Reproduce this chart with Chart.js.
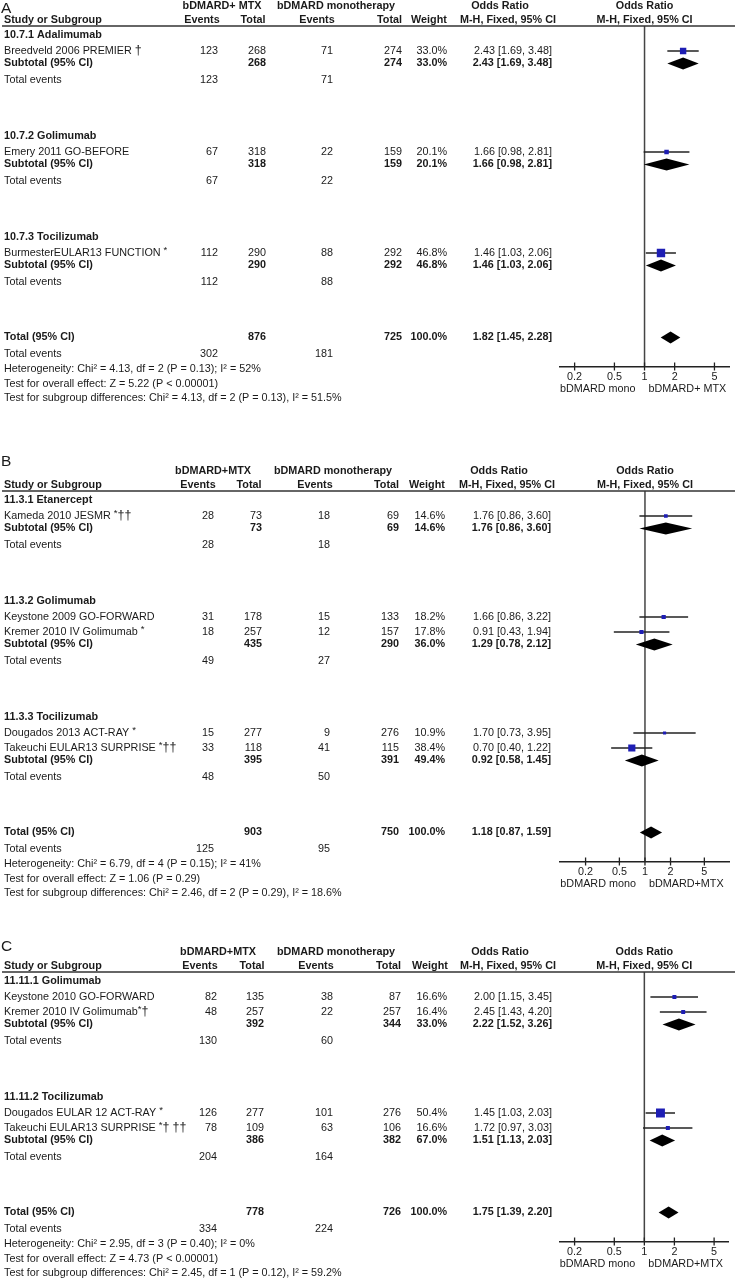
<!DOCTYPE html>
<html>
<head>
<meta charset="utf-8">
<script src="https://cdn.jsdelivr.net/npm/chart.js@4.4.1/dist/chart.umd.min.js"></script>
<style>
  body { margin: 0; background: #fff; width: 735px; height: 1280px; position: relative; overflow: hidden; }
  canvas { position: absolute; left: 0; }
</style>
</head>
<body>
<canvas id="chartA" width="735" height="440" style="top:0px"></canvas>
<canvas id="chartB" width="735" height="485" style="top:440px"></canvas>
<canvas id="chartC" width="735" height="355" style="top:925px"></canvas>
<script>
// ---- data: panel A ----
const groupsA = ['10.7.1 Adalimumab', '10.7.2 Golimumab', '10.7.3 Tocilizumab'];
const studiesA = ['Breedveld 2006 PREMIER', 'Emery 2011 GO-BEFORE', 'BurmesterEULAR13 FUNCTION'];
const marksA = [' †', '', ' *'];
const groupOfA = [0, 1, 2];
const expEventsA = [123, 67, 112];
const expTotalA = [268, 318, 290];
const ctlEventsA = [71, 22, 88];
const ctlTotalA = [274, 159, 292];
const weightA = [33.0, 20.1, 46.8];
const orA = [2.43, 1.66, 1.46];
const loA = [1.69, 0.98, 1.03];
const hiA = [3.48, 2.81, 2.06];
const subWeightA = [33.0, 20.1, 46.8];
const subOrA = [2.43, 1.66, 1.46];
const subLoA = [1.69, 0.98, 1.03];
const subHiA = [3.48, 2.81, 2.06];
const overallA = [1.82, 1.45, 2.28];
const statsA = ['Heterogeneity: Chi² = 4.13, df = 2 (P = 0.13); I² = 52%',
                'Test for overall effect: Z = 5.22 (P < 0.00001)',
                'Test for subgroup differences: Chi² = 4.13, df = 2 (P = 0.13), I² = 51.5%'];

// ---- data: panel B ----
const groupsB = ['11.3.1 Etanercept', '11.3.2 Golimumab', '11.3.3 Tocilizumab'];
const studiesB = ['Kameda 2010 JESMR', 'Keystone 2009 GO-FORWARD', 'Kremer 2010 IV Golimumab',
                  'Dougados 2013 ACT-RAY', 'Takeuchi EULAR13 SURPRISE'];
const marksB = [' *††', '', ' *', ' *', ' *††'];
const groupOfB = [0, 1, 1, 2, 2];
const expEventsB = [28, 31, 18, 15, 33];
const expTotalB = [73, 178, 257, 277, 118];
const ctlEventsB = [18, 15, 12, 9, 41];
const ctlTotalB = [69, 133, 157, 276, 115];
const weightB = [14.6, 18.2, 17.8, 10.9, 38.4];
const orB = [1.76, 1.66, 0.91, 1.70, 0.70];
const loB = [0.86, 0.86, 0.43, 0.73, 0.40];
const hiB = [3.60, 3.22, 1.94, 3.95, 1.22];
const subWeightB = [14.6, 36.0, 49.4];
const subOrB = [1.76, 1.29, 0.92];
const subLoB = [0.86, 0.78, 0.58];
const subHiB = [3.60, 2.12, 1.45];
const overallB = [1.18, 0.87, 1.59];
const statsB = ['Heterogeneity: Chi² = 6.79, df = 4 (P = 0.15); I² = 41%',
                'Test for overall effect: Z = 1.06 (P = 0.29)',
                'Test for subgroup differences: Chi² = 2.46, df = 2 (P = 0.29), I² = 18.6%'];

// ---- data: panel C ----
const groupsC = ['11.11.1 Golimumab', '11.11.2 Tocilizumab'];
const studiesC = ['Keystone 2010 GO-FORWARD', 'Kremer 2010 IV Golimumab',
                  'Dougados EULAR 12 ACT-RAY', 'Takeuchi EULAR13 SURPRISE'];
const marksC = ['', '*†', ' *', ' *† ††'];
const groupOfC = [0, 0, 1, 1];
const expEventsC = [82, 48, 126, 78];
const expTotalC = [135, 257, 277, 109];
const ctlEventsC = [38, 22, 101, 63];
const ctlTotalC = [87, 257, 276, 106];
const weightC = [16.6, 16.4, 50.4, 16.6];
const orC = [2.00, 2.45, 1.45, 1.72];
const loC = [1.15, 1.43, 1.03, 0.97];
const hiC = [3.45, 4.20, 2.03, 3.03];
const subWeightC = [33.0, 67.0];
const subOrC = [2.22, 1.51];
const subLoC = [1.52, 1.13];
const subHiC = [3.26, 2.03];
const overallC = [1.75, 1.39, 2.20];
const statsC = ['Heterogeneity: Chi² = 2.95, df = 3 (P = 0.40); I² = 0%',
                'Test for overall effect: Z = 4.73 (P < 0.00001)',
                'Test for subgroup differences: Chi² = 2.45, df = 1 (P = 0.12), I² = 59.2%'];

const tickValues = [0.2, 0.5, 1, 2, 5];

// ---- drawing helpers ----
const FAMILY = '"Liberation Sans", Arial, Helvetica, sans-serif';
const SIZE = 10.8;
const INK = '#1a1a1a';
const BLUE = '#1e1eb4';

function txt(ctx, s, x, y, align, bold, size) {
  ctx.font = (bold ? 'bold ' : '') + (size || SIZE) + 'px ' + FAMILY;
  ctx.textAlign = align || 'left';
  ctx.fillText(s, x, y);
  return ctx.measureText(s).width;
}

function drawMarks(ctx, marks, x, y) {
  for (const ch of marks) {
    if (ch === ' ') { x += 3; continue; }
    if (ch === '*') x += txt(ctx, ch, x, y - 3, 'left', false, 9.5);
    else x += txt(ctx, ch, x, y, 'left', false, 12.5);
  }
}

const fmtOR = (o, l, h) => o.toFixed(2) + ' [' + l.toFixed(2) + ', ' + h.toFixed(2) + ']';

function makePanel(id, p, lay) {
  const H = document.getElementById(id).height;
  const sumOf = (arr, gi) => arr.reduce((a, v, k) => a + (gi == null || p.groupOf[k] === gi ? v : 0), 0);

  // row positions (pixel units below the header rule)
  const pos = { group: [], study: [], sub: [], events: [] };
  let y = 9;
  p.groups.forEach((g, gi) => {
    if (gi > 0) y += 56;
    pos.group[gi] = y;
    let first = true;
    p.groupOf.forEach((gg, si) => {
      if (gg !== gi) return;
      y += first ? 16 : 15;
      first = false;
      pos.study[si] = y;
    });
    y += 12.5; pos.sub[gi] = y;
    y += 16.5; pos.events[gi] = y;
  });
  const total95 = y + 55.5;
  const yMax = total95 + 29;

  const squares = {
    type: 'scatter', order: 0,
    data: p.or.map((v, i) => ({ x: v, y: pos.study[i] })),
    pointStyle: 'rect',
    pointRadius: p.weight.map(w => (1.6 + 0.145 * w) / Math.SQRT2),
    backgroundColor: BLUE, borderWidth: 0
  };
  const whiskers = p.or.map((v, i) => ({
    type: 'scatter', order: 1, showLine: true,
    data: [{ x: p.lo[i], y: pos.study[i] }, { x: p.hi[i], y: pos.study[i] }],
    borderColor: '#222', borderWidth: 1.4, pointRadius: 0
  }));

  const forestPlugin = {
    id: 'forest_' + id,
    beforeDatasetsDraw(chart) {
      const ctx = chart.ctx, ca = chart.chartArea, xs = chart.scales.x;
      const x1 = xs.getPixelForValue(1);
      ctx.save();
      ctx.strokeStyle = '#444'; ctx.lineWidth = 1.5;
      ctx.beginPath(); ctx.moveTo(x1, ca.top); ctx.lineTo(x1, ca.bottom); ctx.stroke();
      ctx.restore();
    },
    afterDatasetsDraw(chart) {
      const ctx = chart.ctx, xs = chart.scales.x, ys = chart.scales.y;
      const diamond = (o, l, h, yy) => {
        const py = ys.getPixelForValue(yy);
        ctx.beginPath();
        ctx.moveTo(xs.getPixelForValue(l), py);
        ctx.lineTo(xs.getPixelForValue(o), py - 6);
        ctx.lineTo(xs.getPixelForValue(h), py);
        ctx.lineTo(xs.getPixelForValue(o), py + 6);
        ctx.closePath(); ctx.fill();
      };
      ctx.save(); ctx.fillStyle = '#000';
      p.groups.forEach((g, gi) => diamond(p.subOr[gi], p.subLo[gi], p.subHi[gi], pos.sub[gi]));
      diamond(p.overall[0], p.overall[1], p.overall[2], total95);
      ctx.restore();
    },
    afterDraw(chart) {
      const ctx = chart.ctx, ca = chart.chartArea, xs = chart.scales.x, ys = chart.scales.y;
      const Y = v => ys.getPixelForValue(v);
      const c = lay.cols;
      ctx.save();
      ctx.fillStyle = INK; ctx.textBaseline = 'middle';

      // panel letter and column headers
      txt(ctx, lay.letter, 1, Y(lay.letterDy), 'left', false, 15.5);
      const h1 = Y(-20), h2 = Y(-6);
      txt(ctx, p.expLabel, c.hExp, h1, 'center', true);
      txt(ctx, 'bDMARD monotherapy', c.hCtl, h1, 'center', true);
      txt(ctx, 'Odds Ratio', c.hOR, h1, 'center', true);
      const plotMid = (ca.left + ca.right) / 2;
      txt(ctx, 'Odds Ratio', plotMid, h1, 'center', true);
      txt(ctx, 'Study or Subgroup', 4, h2, 'left', true);
      txt(ctx, 'Events', c.hEv1, h2, 'center', true);
      txt(ctx, 'Total', c.hTot1, h2, 'center', true);
      txt(ctx, 'Events', c.hEv2, h2, 'center', true);
      txt(ctx, 'Total', c.ctlTot, h2, 'right', true);
      txt(ctx, 'Weight', c.hWt, h2, 'center', true);
      txt(ctx, 'M-H, Fixed, 95% CI', c.hMH, h2, 'center', true);
      txt(ctx, 'M-H, Fixed, 95% CI', plotMid, h2, 'center', true);

      ctx.strokeStyle = '#333'; ctx.lineWidth = 1.5;
      ctx.beginPath(); ctx.moveTo(2, ca.top); ctx.lineTo(735, ca.top); ctx.stroke();

      // groups
      p.groups.forEach((g, gi) => {
        txt(ctx, g, 4, Y(pos.group[gi]), 'left', true);
        const ys2 = Y(pos.sub[gi]);
        txt(ctx, 'Subtotal (95% CI)', 4, ys2, 'left', true);
        txt(ctx, String(sumOf(p.expTotal, gi)), c.expTot, ys2, 'right', true);
        txt(ctx, String(sumOf(p.ctlTotal, gi)), c.ctlTot, ys2, 'right', true);
        txt(ctx, p.subWeight[gi].toFixed(1) + '%', c.wt, ys2, 'right', true);
        txt(ctx, fmtOR(p.subOr[gi], p.subLo[gi], p.subHi[gi]), c.or, ys2, 'right', true);
        const ye = Y(pos.events[gi]);
        txt(ctx, 'Total events', 4, ye, 'left', false);
        txt(ctx, String(sumOf(p.expEvents, gi)), c.expEv, ye, 'right', false);
        txt(ctx, String(sumOf(p.ctlEvents, gi)), c.ctlEv, ye, 'right', false);
      });

      // studies
      p.studies.forEach((s, si) => {
        const yy = Y(pos.study[si]);
        const w = txt(ctx, s, 4, yy, 'left', false);
        drawMarks(ctx, p.marks[si], 4 + w, yy);
        txt(ctx, String(p.expEvents[si]), c.expEv, yy, 'right', false);
        txt(ctx, String(p.expTotal[si]), c.expTot, yy, 'right', false);
        txt(ctx, String(p.ctlEvents[si]), c.ctlEv, yy, 'right', false);
        txt(ctx, String(p.ctlTotal[si]), c.ctlTot, yy, 'right', false);
        txt(ctx, p.weight[si].toFixed(1) + '%', c.wt, yy, 'right', false);
        txt(ctx, fmtOR(p.or[si], p.lo[si], p.hi[si]), c.or, yy, 'right', false);
      });

      // overall
      const yt = Y(total95);
      txt(ctx, 'Total (95% CI)', 4, yt, 'left', true);
      txt(ctx, String(sumOf(p.expTotal)), c.expTot, yt, 'right', true);
      txt(ctx, String(sumOf(p.ctlTotal)), c.ctlTot, yt, 'right', true);
      txt(ctx, '100.0%', c.wt, yt, 'right', true);
      txt(ctx, fmtOR(p.overall[0], p.overall[1], p.overall[2]), c.or, yt, 'right', true);
      const yte = Y(total95 + 17);
      txt(ctx, 'Total events', 4, yte, 'left', false);
      txt(ctx, String(sumOf(p.expEvents)), c.expEv, yte, 'right', false);
      txt(ctx, String(sumOf(p.ctlEvents)), c.ctlEv, yte, 'right', false);
      p.stats.forEach((s, k) => txt(ctx, s, 4, Y(total95 + 32 + 14.5 * k), 'left', false));

      // axis tick crosses and side labels
      ctx.strokeStyle = '#222'; ctx.lineWidth = 1.3;
      tickValues.forEach(v => {
        const x = xs.getPixelForValue(v);
        ctx.beginPath(); ctx.moveTo(x, ca.bottom - 4); ctx.lineTo(x, ca.bottom + 4); ctx.stroke();
      });
      const x1 = xs.getPixelForValue(1);
      txt(ctx, 'bDMARD mono', x1 - 9, ca.bottom + 23, 'right', false);
      txt(ctx, p.expLabel, x1 + 4, ca.bottom + 23, 'left', false);
      ctx.restore();
    }
  };

  return new Chart(document.getElementById(id), {
    data: { datasets: [squares, ...whiskers] },
    options: {
      responsive: false,
      animation: false,
      events: [],
      layout: { padding: { top: lay.line, left: 560, right: 2, bottom: 0 } },
      plugins: { legend: { display: false }, tooltip: { enabled: false } },
      scales: {
        x: {
          type: 'logarithmic', min: lay.xMin, max: lay.xMax, bounds: 'data',
          afterBuildTicks: s => { s.ticks = tickValues.map(v => ({ value: v })); },
          afterFit: s => { s.height = H - lay.line - yMax; },
          grid: { display: false, drawTicks: false },
          border: { display: true, color: '#222', width: 1.5 },
          ticks: {
            autoSkip: false, maxRotation: 0, padding: 4, color: INK,
            font: { family: FAMILY, size: SIZE },
            callback: v => String(v)
          }
        },
        y: { type: 'linear', display: false, reverse: true, min: 0, max: yMax }
      }
    },
    plugins: [forestPlugin]
  });
}

makePanel('chartA', {
  groups: groupsA, studies: studiesA, marks: marksA, groupOf: groupOfA,
  expEvents: expEventsA, expTotal: expTotalA, ctlEvents: ctlEventsA, ctlTotal: ctlTotalA,
  weight: weightA, or: orA, lo: loA, hi: hiA,
  subWeight: subWeightA, subOr: subOrA, subLo: subLoA, subHi: subHiA,
  overall: overallA, stats: statsA, expLabel: 'bDMARD+ MTX'
}, {
  letter: 'A', letterDy: -17, line: 26, xMin: 1 / 7, xMax: 7,
  cols: { expEv: 218, expTot: 266, ctlEv: 333, ctlTot: 402, wt: 447, or: 552,
          hExp: 222, hCtl: 336, hEv1: 202, hTot1: 253, hEv2: 317, hWt: 429, hOR: 500, hMH: 508 }
});

makePanel('chartB', {
  groups: groupsB, studies: studiesB, marks: marksB, groupOf: groupOfB,
  expEvents: expEventsB, expTotal: expTotalB, ctlEvents: ctlEventsB, ctlTotal: ctlTotalB,
  weight: weightB, or: orB, lo: loB, hi: hiB,
  subWeight: subWeightB, subOr: subOrB, subLo: subLoB, subHi: subHiB,
  overall: overallB, stats: statsB, expLabel: 'bDMARD+MTX'
}, {
  letter: 'B', letterDy: -29, line: 51, xMin: 0.1, xMax: 10,
  cols: { expEv: 214, expTot: 262, ctlEv: 330, ctlTot: 399, wt: 445, or: 551,
          hExp: 213, hCtl: 333, hEv1: 198, hTot1: 249, hEv2: 315, hWt: 427, hOR: 499, hMH: 507 }
});

makePanel('chartC', {
  groups: groupsC, studies: studiesC, marks: marksC, groupOf: groupOfC,
  expEvents: expEventsC, expTotal: expTotalC, ctlEvents: ctlEventsC, ctlTotal: ctlTotalC,
  weight: weightC, or: orC, lo: loC, hi: hiC,
  subWeight: subWeightC, subOr: subOrC, subLo: subLoC, subHi: subHiC,
  overall: overallC, stats: statsC, expLabel: 'bDMARD+MTX'
}, {
  letter: 'C', letterDy: -25, line: 47, xMin: 1 / 7, xMax: 7,
  cols: { expEv: 217, expTot: 264, ctlEv: 333, ctlTot: 401, wt: 447, or: 552,
          hExp: 218, hCtl: 336, hEv1: 200, hTot1: 252, hEv2: 316, hWt: 430, hOR: 500, hMH: 508 }
});
</script>
</body>
</html>
